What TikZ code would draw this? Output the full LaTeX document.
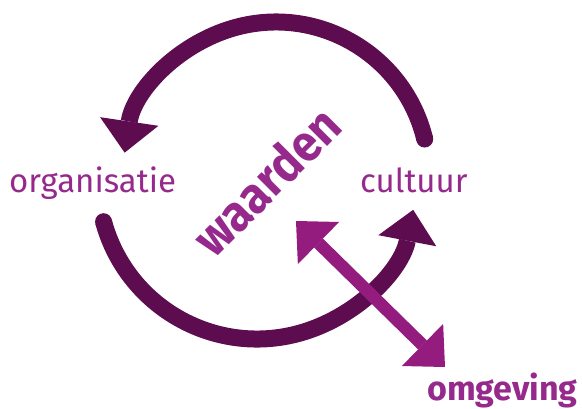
\documentclass[tikz,border=0pt]{standalone}
\usepackage{fontspec}
\setmainfont{Fira Sans}
\usetikzlibrary{arrows.meta,calc}
\definecolor{arcc}{HTML}{5E0C50}
\definecolor{arrc}{HTML}{931C7E}
\definecolor{txtc}{HTML}{96298C}
\begin{document}
\begin{tikzpicture}[x=1pt,y=1pt,
  cyc/.style={draw=arcc,line width=17pt,-{Triangle[length=31.5pt,width=59pt,line width=0pt]}},
  dbl/.style={draw=arrc,line width=12.5pt,{Triangle[length=31.5pt,width=59pt,line width=0pt]}-{Triangle[length=31.5pt,width=59pt,line width=0pt]}},
  lbl/.style={text=txtc,inner sep=0pt,anchor=base west,font=\fontsize{33}{40}\selectfont},
  blbl/.style={lbl,font=\fontsize{34}{40}\selectfont\bfseries}]
\useasboundingbox (0,0) rectangle (582,-408);
% cycle arcs
\coordinate (ct) at (276,-175);
\coordinate (cb) at (257,-180);
\coordinate (ts) at ($(ct)+(13.6:153)$);
\coordinate (bs) at ($(cb)+(195.2:159)$);
\draw[cyc] (ts) arc[start angle=13.6,end angle=171.6,radius=153];
\fill[arcc] (ts) circle[radius=8.5];
\draw[cyc] (bs) arc[start angle=195.2,end angle=349.2,radius=159];
\fill[arcc] (bs) circle[radius=8.5];
% double arrow
\coordinate (up) at (296,-221);
\coordinate (dn) at (445,-367);
\draw[dbl] (up) -- (dn);
% labels
\node[lbl] (org) at (9,-192) {organisatie};
\node[lbl] (cul) at (360,-192) {cultuur};
\node[blbl] (omg) at (427,-400) {omgeving};
\node[text=txtc,inner sep=0pt,rotate=45,xscale=0.92,font=\fontsize{51}{54}\selectfont\bfseries] (waa) at (266,-181) {waarden};
\end{tikzpicture}
\end{document}
